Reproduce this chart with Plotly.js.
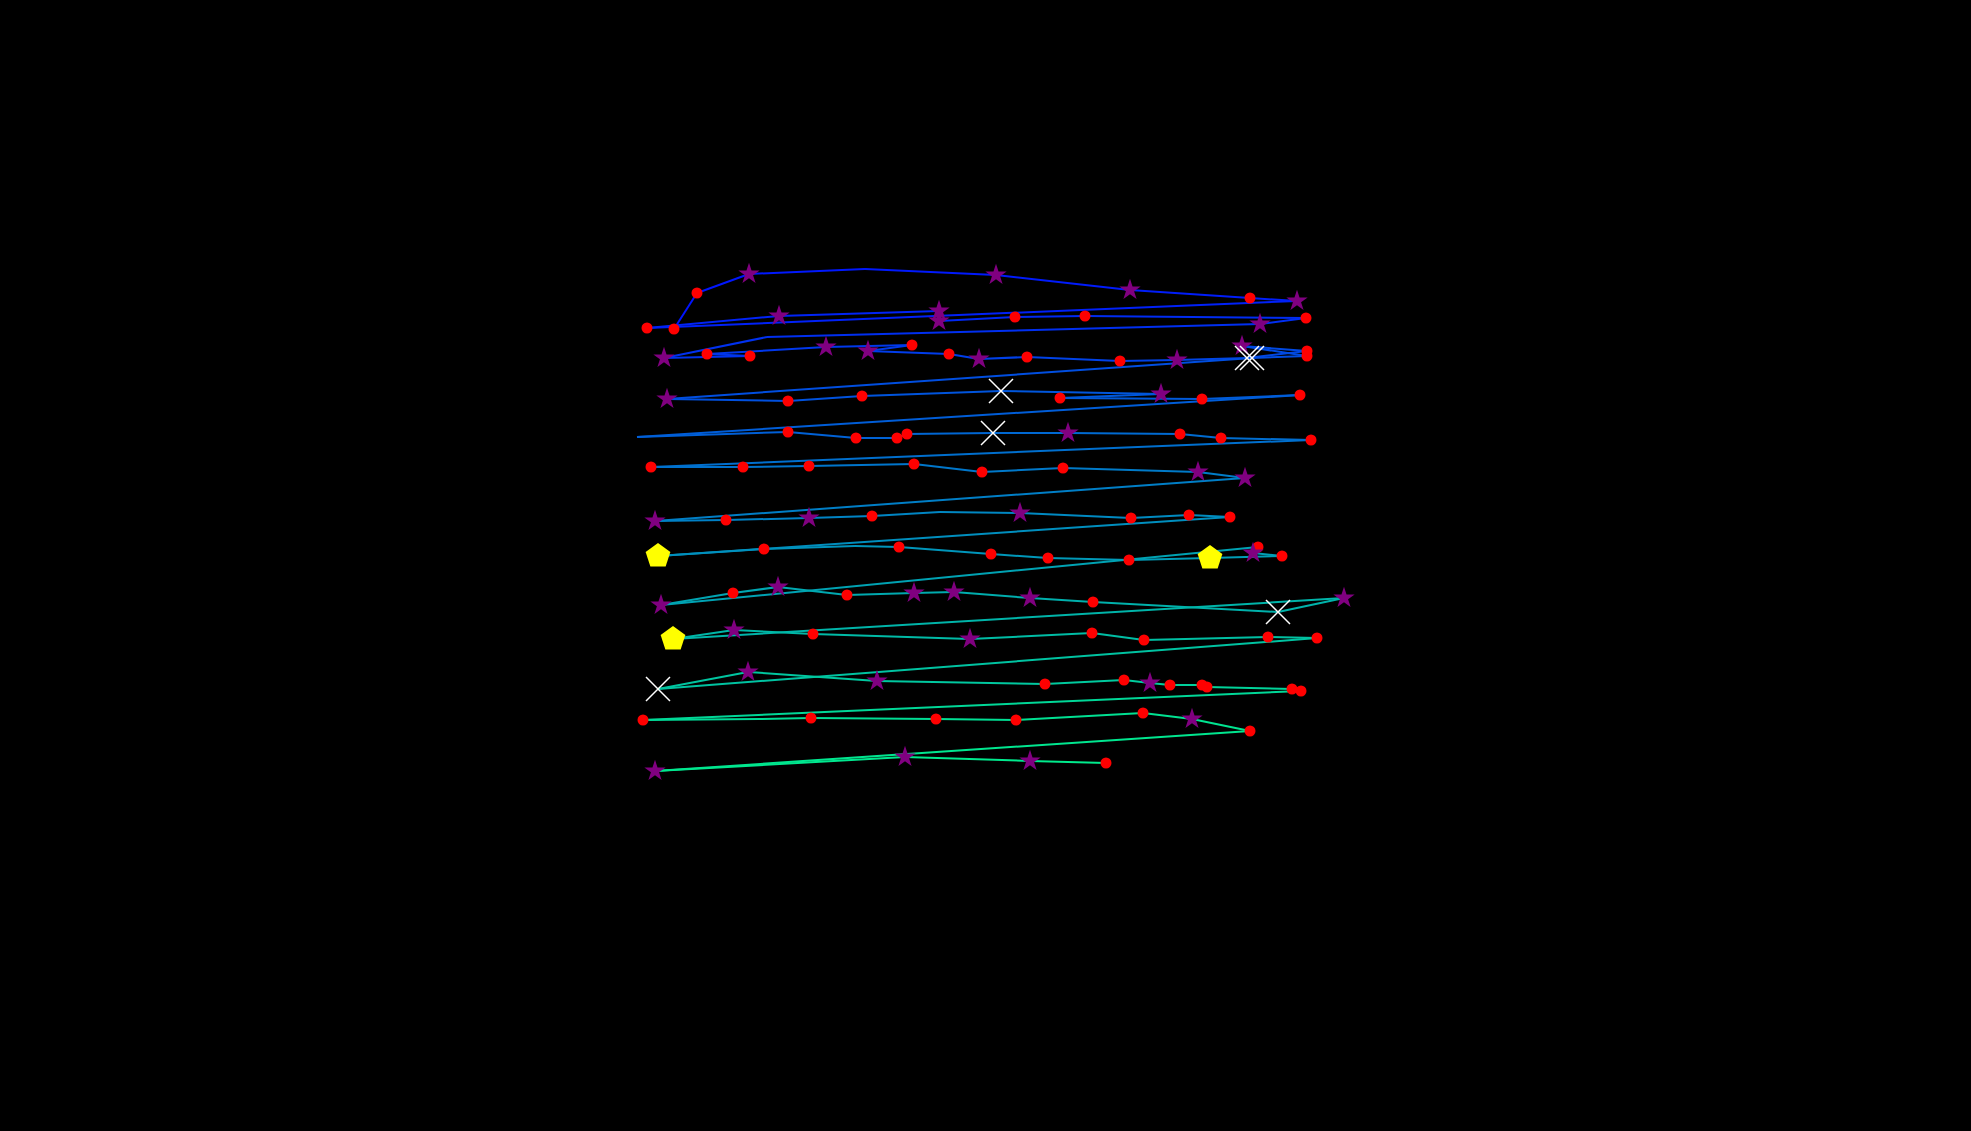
<!DOCTYPE html>
<html>
<head>
<meta charset="utf-8">
<script src="https://cdn.plot.ly/plotly-3.0.1.min.js"></script>
<style>
  html, body { margin: 0; padding: 0; background: #000; }
  #chart { width: 1971px; height: 1131px; }
</style>
</head>
<body>
<div id="chart"></div>
<script>
// Path points, in drawing order (x, y in chart units; y axis points down)
const xs = [
  674, 697, 749, 865, 996, 1130, 1250, 1297,
  647, 779, 939, 939, 1015, 1085, 1306, 1260, 767,
  664, 750, 707, 826, 912, 868, 949, 979, 1027, 1120, 1177, 1247, 1307, 1242, 1307, 1252,
  667, 788, 862, 1001, 1161, 1060, 1202, 1300,
  637, 788, 856, 897, 907, 993, 1068, 1180, 1221, 1311,
  651, 743, 809, 914, 982, 1063, 1198, 1245,
  655, 726, 809, 872, 940, 1020, 1131, 1189, 1230,
  658, 764, 855, 899, 991, 1048, 1129, 1210, 1282, 1253, 1258,
  661, 733, 778, 847, 914, 954, 1030, 1093, 1278, 1344,
  673, 734, 813, 970, 1092, 1144, 1268, 1317,
  658, 748, 877, 1045, 1124, 1150, 1170, 1202, 1207, 1292, 1301,
  643, 758, 811, 936, 1016, 1143, 1192, 1250,
  655, 905, 1030, 1106
];
const ys = [
  329, 293, 274, 269, 275, 290, 298, 301,
  328, 316, 311, 321, 317, 316, 318, 324, 337,
  358, 356, 354, 347, 345, 351, 354, 359, 357, 361, 360, 358, 351, 346, 356, 358,
  399, 401, 396, 391, 394, 398, 399, 395,
  437, 432, 438, 438, 434, 433, 433, 434, 438, 440,
  467, 467, 466, 464, 472, 468, 472, 478,
  521, 520, 518, 516, 512, 513, 518, 515, 517,
  556, 549, 546, 547, 554, 558, 560, 558, 556, 553, 547,
  605, 593, 587, 595, 593, 592, 598, 602, 612, 598,
  639, 630, 634, 639, 633, 640, 637, 638,
  689, 672, 681, 684, 680, 683, 685, 685, 687, 689, 691,
  720, 719, 718, 719, 720, 713, 719, 731,
  771, 757, 761, 763
];
// marker kind per point: o = circle, s = star, x = cross, p = pentagon, "" = no marker
const kinds = [
  "o","o","s","","s","s","o","s",
  "o","s","s","s","o","o","o","s","",
  "s","o","o","s","o","s","o","s","o","o","s","x","o","s","o","x",
  "s","o","o","x","s","o","o","o",
  "","o","o","o","o","x","s","o","o","o",
  "o","o","o","o","o","o","s","s",
  "s","o","s","o","","s","o","o","o",
  "p","o","","o","o","o","o","p","o","s","o",
  "s","o","s","o","s","s","s","o","x","s",
  "p","s","o","s","o","o","o","o",
  "x","s","s","o","o","s","o","o","o","o","o",
  "o","","o","o","o","o","s","o",
  "s","s","s","o"
];

const startColor = [0, 20, 255];
const endColor = [0, 235, 140];

const traces = [];
const n = xs.length;
for (let i = 0; i < n - 1; i++) {
  const t = i / (n - 2);
  const c = startColor.map((a, k) => Math.round(a + (endColor[k] - a) * t));
  traces.push({
    type: "scatter", mode: "lines",
    x: [xs[i], xs[i + 1]], y: [ys[i], ys[i + 1]],
    line: { color: `rgb(${c[0]},${c[1]},${c[2]})`, width: 2 },
    hoverinfo: "skip"
  });
}

const styles = {
  o: { symbol: "circle", size: 11, color: "#ff0000", line: { width: 0 } },
  s: { symbol: "star", size: 16, color: "#800080", line: { width: 0 } },
  p: { symbol: "pentagon", size: 26, color: "#ffff00", line: { width: 0 } },
  x: { symbol: "x-thin-open", size: 24, color: "#ffffff", line: { width: 1.5, color: "#ffffff" } }
};
["o", "s", "p", "x"].forEach(k => {
  const mx = [], my = [];
  for (let i = 0; i < n; i++) if (kinds[i] === k) { mx.push(xs[i]); my.push(ys[i]); }
  traces.push({ type: "scatter", mode: "markers", x: mx, y: my, marker: styles[k] });
});

const layout = {
  width: 1971, height: 1131,
  margin: { l: 0, r: 0, t: 0, b: 0 },
  paper_bgcolor: "#000000", plot_bgcolor: "#000000",
  showlegend: false,
  xaxis: { range: [0, 1971], visible: false, showgrid: false, zeroline: false },
  yaxis: { range: [1131, 0], visible: false, showgrid: false, zeroline: false }
};
Plotly.newPlot("chart", traces, layout, { displayModeBar: false, staticPlot: true });
</script>
</body>
</html>
